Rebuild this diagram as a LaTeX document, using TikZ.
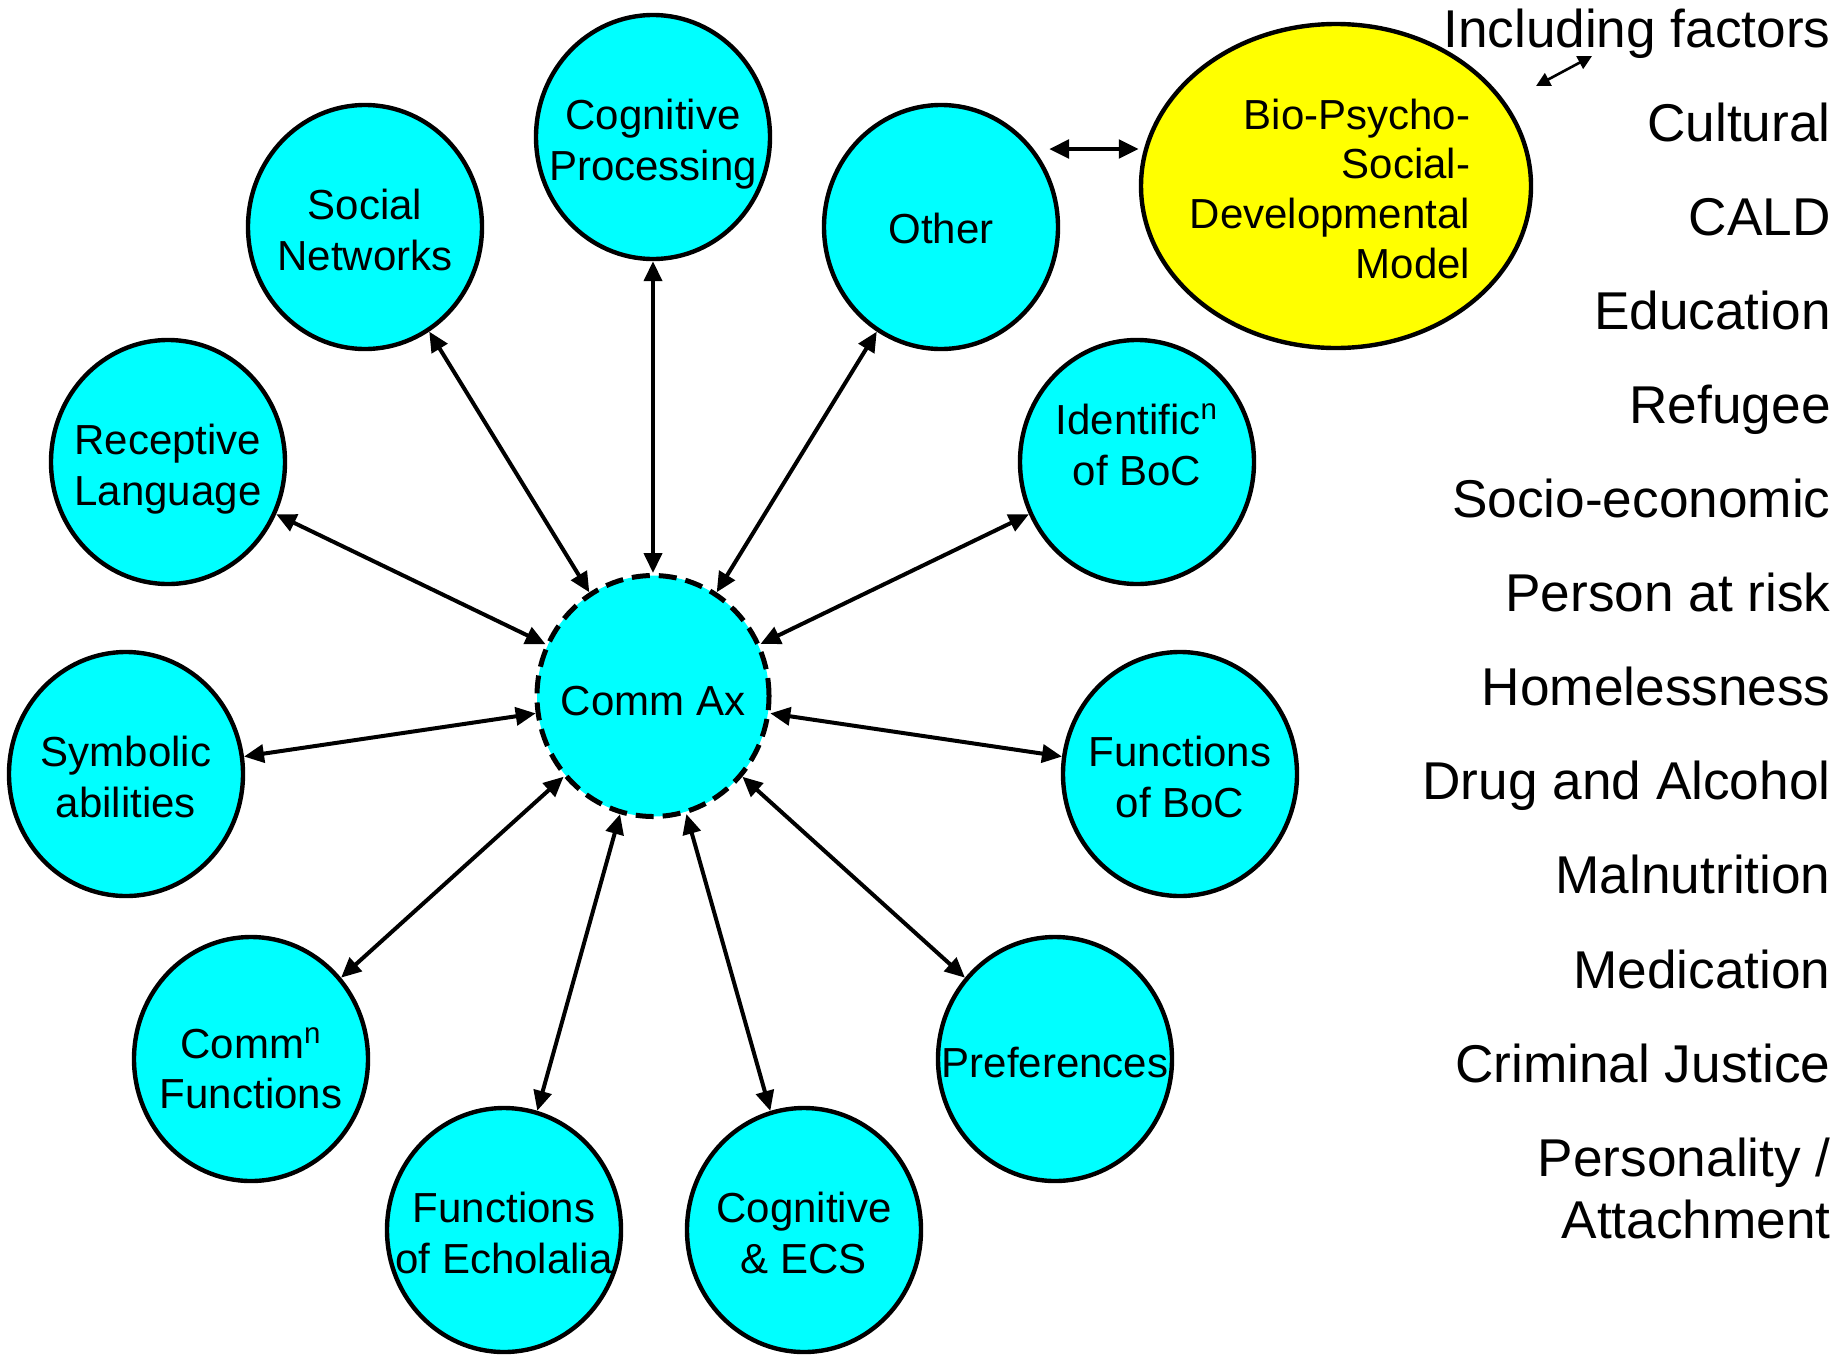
\documentclass[tikz,border=0pt]{standalone}
\usepackage{fontspec}
\setmainfont{Liberation Sans}
\usetikzlibrary{arrows.meta,shapes.geometric}
\definecolor{aqua}{RGB}{0,255,255}
\definecolor{lemon}{RGB}{255,255,0}
\newcommand{\lnstrut}{\rule[-4.45pt]{0pt}{23.45pt}}

\begin{document}
\begin{tikzpicture}[x=0.5pt,y=-0.5pt,
  bubble/.style={ellipse,draw,line width=2.2pt,fill=aqua,inner sep=0pt,minimum width=117pt,minimum height=122pt},
  bubtext/.style={align=center,inner sep=0pt,yshift=-3.5pt,font=\fontsize{21}{25.3}\selectfont,
    execute at begin node=\lnstrut,execute at end node=\lnstrut},
  link/.style={{Triangle[length=10pt,width=9pt]}-{Triangle[length=10pt,width=9pt]},line width=2pt},
  fact/.style={anchor=base east,inner sep=0pt,font=\fontsize{26.6}{30.5}\selectfont}]
  \useasboundingbox (0,0) rectangle (1845,1355);

  % centre
  \node[bubble,line width=2.5pt,dash pattern=on 9pt off 4.5pt,minimum width=116pt,minimum height=120.5pt,
    label={[bubtext,yshift=1.2pt]center:Comm Ax}] (comm) at (653,696) {};

  % ring
  \node[bubble,label={[bubtext]center:{Cognitive\\Processing}}] (cogproc) at (653,137) {};
  \node[bubble,label={[bubtext]center:{Social\\Networks}}] (social) at (365,227) {};
  \node[bubble,label={[bubtext,yshift=2.5pt]center:Other}] (other) at (941,227) {};
  \node[bubble,label={[bubtext]center:{Receptive\\Language}}] (recept) at (168,462) {};
  \node[bubble,label={[bubtext,yshift=10pt]center:{Identific\textsuperscript{n}\\of BoC}}] (ident) at (1137,462) {};
  \node[bubble,label={[bubtext]center:{Symbolic\\abilities}}] (symb) at (126,774) {};
  \node[bubble,label={[bubtext]center:{Functions\\of BoC}}] (funcboc) at (1180,774) {};
  \node[bubble,label={[bubtext,yshift=-3.3pt]center:{Comm\textsuperscript{n}\\Functions}}] (commfn) at (251,1059) {};
  \node[bubble,label={[bubtext,yshift=1.3pt]center:Preferences}] (prefs) at (1055,1059) {};
  \node[bubble,label={[bubtext]center:{Functions\\of Echolalia}}] (echo) at (504,1230) {};
  \node[bubble,label={[bubtext]center:{Cognitive\\\& ECS}}] (ecs) at (804,1230) {};

  \foreach \n in {cogproc,social,other,recept,ident,symb,funcboc,commfn,prefs,echo,ecs}
    \draw[link] (comm) -- (\n);

  % model
  \node[ellipse,draw,line width=2.2pt,fill=lemon,inner sep=0pt,minimum width=195pt,minimum height=162pt,
    label={[bubtext,align=right,xshift=-3pt,font=\fontsize{21}{24.9}\selectfont]center:{Bio-Psycho-\\Social-\\Developmental\\Model}}] (bio) at (1336,186) {};
  \coordinate (otherr) at (1049,149);
  \draw[link,line width=2.4pt] (otherr) -- (otherr -| bio.west);

  % factors
  \foreach \t [count=\k from 0] in {Including factors,Cultural,CALD,Education,Refugee,Socio-economic,Person at risk,Homelessness,Drug and Alcohol,Malnutrition,Medication,Criminal Justice,Personality /}
    \node[fact] (f\k) at (1831,{47+94.1*\k}) {\t};
  \node[fact] (f13) at (1831,1238) {Attachment};

  \coordinate (inclA) at (1536,86);
  \coordinate (inclB) at (1592,56);
  \draw[{Triangle[length=7pt,width=7pt]}-{Triangle[length=7pt,width=7pt]},line width=1.3pt] (inclA) -- (inclB);
\end{tikzpicture}
\end{document}
